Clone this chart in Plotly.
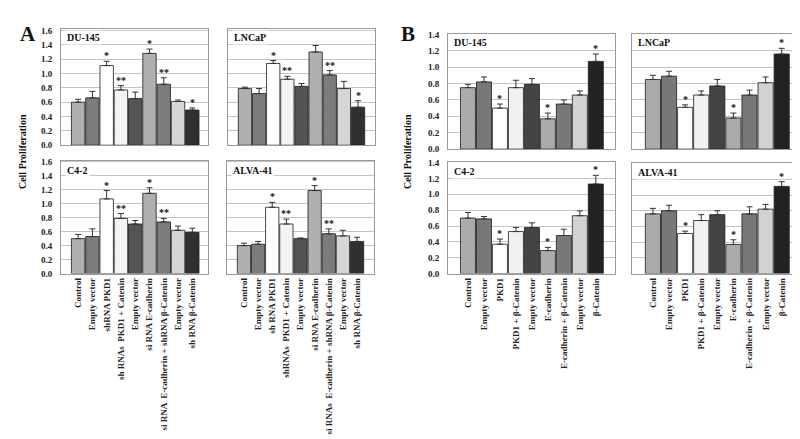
import plotly.graph_objects as go

# ---------------- data ----------------
labels_A_left = ["Control", "Empty vector", "shRNA PKD1", "sh RNAs  PKD1 + Catenin", "Empty vector",
                 "si RNA E-cadherin", "si RNA  E-cadherin + shRNA β-Catenin", "Empty vector", "sh RNA β-Catenin"]
labels_A_right = ["Control", "Empty vector", "sh RNA PKD1", "shRNAs  PKD1 + Catenin", "Empty vector",
                  "si RNA E-cadherin", "si RNAs  E-cadherin + shRNA β-Catenin", "Empty vector", "sh RNA β-Catenin"]
labels_B = ["Control", "Empty vector", "PKD1", "PKD1 + β-Catenin", "Empty vector",
            "E-cadherin", "E-cadherin + β-Catenin", "Empty vector", "β-Catenin"]

A_du145 = [0.60, 0.66, 1.11, 0.77, 0.65, 1.28, 0.85, 0.61, 0.49]
A_du145_err = [0.04, 0.09, 0.06, 0.06, 0.09, 0.06, 0.09, 0.02, 0.03]
A_du145_sig = ["", "", "*", "**", "", "*", "**", "", "*"]

A_lncap = [0.79, 0.72, 1.14, 0.92, 0.82, 1.30, 0.98, 0.79, 0.53]
A_lncap_err = [0.02, 0.07, 0.04, 0.04, 0.04, 0.09, 0.06, 0.10, 0.09]
A_lncap_sig = ["", "", "*", "**", "", "", "**", "", "*"]

A_c42 = [0.50, 0.53, 1.07, 0.79, 0.71, 1.15, 0.74, 0.62, 0.59]
A_c42_err = [0.06, 0.11, 0.12, 0.07, 0.05, 0.08, 0.05, 0.06, 0.06]
A_c42_sig = ["", "", "*", "**", "", "*", "**", "", ""]

A_alva = [0.40, 0.42, 0.95, 0.71, 0.50, 1.19, 0.57, 0.54, 0.46]
A_alva_err = [0.035, 0.04, 0.07, 0.07, 0.01, 0.07, 0.07, 0.08, 0.06]
A_alva_sig = ["", "", "*", "**", "", "*", "**", "", ""]

B_du145 = [0.75, 0.82, 0.50, 0.75, 0.79, 0.37, 0.55, 0.66, 1.07]
B_du145_err = [0.04, 0.06, 0.05, 0.09, 0.07, 0.07, 0.05, 0.05, 0.09]
B_du145_sig = ["", "", "*", "", "", "*", "", "", "*"]

B_lncap = [0.85, 0.89, 0.51, 0.66, 0.77, 0.38, 0.66, 0.81, 1.16]
B_lncap_err = [0.05, 0.06, 0.03, 0.05, 0.08, 0.06, 0.06, 0.07, 0.07]
B_lncap_sig = ["", "", "*", "", "", "*", "", "", "*"]

B_c42 = [0.70, 0.69, 0.37, 0.53, 0.58, 0.29, 0.48, 0.73, 1.13]
B_c42_err = [0.07, 0.03, 0.065, 0.05, 0.06, 0.04, 0.08, 0.06, 0.11]
B_c42_sig = ["", "", "*", "", "", "*", "", "", "*"]

B_alva = [0.76, 0.80, 0.51, 0.675, 0.75, 0.37, 0.76, 0.82, 1.11]
B_alva_err = [0.07, 0.07, 0.03, 0.075, 0.05, 0.06, 0.09, 0.06, 0.06]
B_alva_sig = ["", "", "*", "", "", "*", "", "", "*"]

colors_A = ["#b0b0b0", "#7c7c7c", "#ffffff", "#f3f3f3", "#545454", "#b0b0b0", "#7c7c7c", "#d6d6d6", "#303030"]
colors_B = ["#ababab", "#787878", "#ffffff", "#f1f1f1", "#444444", "#ababab", "#787878", "#d2d2d2", "#222222"]

yticks_A = [0.0, 0.2, 0.4, 0.6, 0.8, 1.0, 1.2, 1.4, 1.6]
yticks_B = [0.0, 0.2, 0.4, 0.6, 0.8, 1.0, 1.2, 1.4]

# ---------------- layout helpers ----------------
W, H = 800, 439
SERIF = "Liberation Serif"

def xd(a, b):
    return [a / W, b / W]

def yd(top, bottom):
    return [1 - bottom / H, 1 - top / H]

panels = [
    # name, values, err, sig, colors, labels, xdom, ydom, yrange, yticks, show_x, show_y, xrange
    ("DU-145", A_du145, A_du145_err, A_du145_sig, colors_A, labels_A_left, xd(53, 200), yd(17, 136), [0, 1.625], yticks_A, False, True, [-1.2, 9.1]),
    ("LNCaP", A_lncap, A_lncap_err, A_lncap_sig, colors_A, labels_A_right, xd(220, 367), yd(17, 136), [0, 1.625], yticks_A, False, False, [-1.2, 9.2]),
    ("C4-2", A_c42, A_c42_err, A_c42_sig, colors_A, labels_A_left, xd(53, 200), yd(152, 267), [0, 1.615], yticks_A, True, True, [-1.2, 9.1]),
    ("ALVA-41", A_alva, A_alva_err, A_alva_sig, colors_A, labels_A_right, xd(219, 366), yd(152, 267), [0, 1.615], yticks_A, True, False, [-1.2, 9.2]),
    ("DU-145", B_du145, B_du145_err, B_du145_sig, colors_B, labels_B, xd(440, 607), yd(22, 140), [0, 1.41], yticks_B, False, True, [-1.25, 9.2]),
    ("LNCaP", B_lncap, B_lncap_err, B_lncap_sig, colors_B, labels_B, xd(624, 793), yd(22, 140), [0, 1.41], yticks_B, False, False, [-1.3, 9.2]),
    ("C4-2", B_c42, B_c42_err, B_c42_sig, colors_B, labels_B, xd(440, 607), yd(153, 267), [0, 1.41], yticks_B, True, True, [-1.25, 9.2]),
    ("ALVA-41", B_alva, B_alva_err, B_alva_sig, colors_B, labels_B, xd(624, 793), yd(154, 267), [0, 1.41], yticks_B, True, False, [-1.3, 9.2]),
]

fig = go.Figure()
annotations = []
layout = {}

for i, (name, vals, err, sig, cols, labs, xdom, ydom, yr, yt, show_x, show_y, xr) in enumerate(panels):
    n = i + 1
    xa = "x" if n == 1 else f"x{n}"
    ya = "y" if n == 1 else f"y{n}"
    xs = list(range(len(vals)))
    fig.add_trace(go.Bar(
        x=xs, y=vals, xaxis=xa, yaxis=ya,
        marker=dict(color=cols, line=dict(color="#1a1a1a", width=0.8)),
        error_y=dict(type="data", symmetric=False, array=err, arrayminus=[0] * len(err),
                     color="#333333", thickness=1, width=3),
        showlegend=False, hoverinfo="skip",
    ))
    layout["xaxis" if n == 1 else f"xaxis{n}"] = dict(
        domain=xdom, anchor=ya, range=xr, tickmode="array", tickvals=xs, ticktext=labs,
        showticklabels=show_x, tickangle=-90, ticks="",
        tickfont=dict(family=SERIF, size=9, color="#222222", weight="bold"),
        showgrid=False, zeroline=False, showline=True, linecolor="#9a9a9a", linewidth=1, mirror=True,
        fixedrange=True,
    )
    layout["yaxis" if n == 1 else f"yaxis{n}"] = dict(
        domain=ydom, anchor=xa, range=yr, tickmode="array", tickvals=yt,
        ticktext=[f"{v:.1f}" for v in yt], showticklabels=show_y, ticks="",
        ticklabelstandoff=6,
        tickfont=dict(family=SERIF, size=9, color="#222222", weight="bold"),
        showgrid=True, gridcolor="#c4c4c4", gridwidth=1, zeroline=False,
        showline=True, linecolor="#9a9a9a", linewidth=1, mirror=True, fixedrange=True,
    )
    # panel title
    annotations.append(dict(
        text=f"<b>{name}</b>", xref=f"{xa} domain", yref=f"{ya} domain",
        x=0.025, y=0.985, xanchor="left", yanchor="top", showarrow=False,
        font=dict(family=SERIF, size=10, color="#111111"), bgcolor="white",
    ))
    # significance stars
    for j, s in enumerate(sig):
        if s:
            annotations.append(dict(
                text=f"<b>{s}</b>", x=j, y=vals[j] + err[j], xref=xa, yref=ya,
                xanchor="center", yanchor="bottom", showarrow=False, yshift=-2,
                font=dict(family=SERIF, size=10, color="#111111"),
            ))

# panel letters and y titles
annotations += [
    dict(text="<b>A</b>", x=10 / W, y=1 - 8 / H, xref="paper", yref="paper", xanchor="left", yanchor="top",
         showarrow=False, font=dict(family=SERIF, size=21, color="#111111")),
    dict(text="<b>B</b>", x=391 / W, y=1 - 8 / H, xref="paper", yref="paper", xanchor="left", yanchor="top",
         showarrow=False, font=dict(family=SERIF, size=21, color="#111111")),
    dict(text="<b>Cell Proliferation</b>", x=14 / W, y=1 - 143 / H, xref="paper", yref="paper",
         xanchor="center", yanchor="middle", textangle=-90, showarrow=False,
         font=dict(family=SERIF, size=10, color="#111111")),
    dict(text="<b>Cell Proliferation</b>", x=399 / W, y=1 - 143 / H, xref="paper", yref="paper",
         xanchor="center", yanchor="middle", textangle=-90, showarrow=False,
         font=dict(family=SERIF, size=10, color="#111111")),
]

fig.update_layout(
    width=W, height=H, margin=dict(l=0, r=0, t=0, b=0),
    paper_bgcolor="white", plot_bgcolor="white",
    bargap=0.06, annotations=annotations, **layout,
)

fig.write_html("out.html", config={"displayModeBar": False})
